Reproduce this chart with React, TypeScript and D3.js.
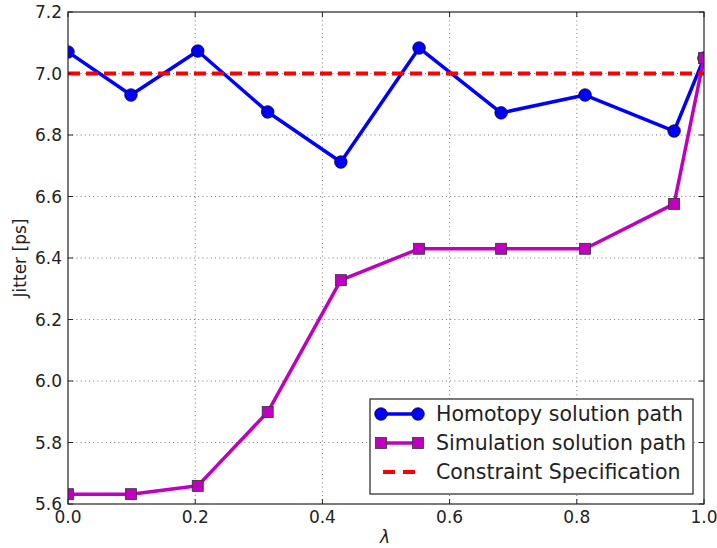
import React from "react";
import * as d3 from "d3";

const lambdaValues = [0, 0.099, 0.204, 0.314, 0.429, 0.552, 0.681, 0.813, 0.953, 1.0];
const homotopyJitter = [7.07, 6.93, 7.073, 6.875, 6.712, 7.083, 6.872, 6.93, 6.813, 7.05];
const simulationJitter = [5.632, 5.632, 5.659, 5.899, 6.328, 6.43, 6.43, 6.43, 6.576, 7.05];
const constraintSpec = 7.0;
const xTicks = [0, 0.2, 0.4, 0.6, 0.8, 1.0];
const yTicks = [5.6, 5.8, 6.0, 6.2, 6.4, 6.6, 6.8, 7.0, 7.2];
const legendLabels = ["Homotopy solution path", "Simulation solution path", "Constraint Specification"];

const W = 717;
const H = 548;
const M = { left: 68, top: 12, right: 704, bottom: 504 };
const FONT = "DejaVu Sans, sans-serif";
const BLUE = "#0000ff";
const MAGENTA = "#bf00bf";
const RED = "#ff0000";

export default function App() {
  const x = d3.scaleLinear().domain([0, 1]).range([M.left, M.right]);
  const y = d3.scaleLinear().domain([5.6, 7.2]).range([M.bottom, M.top]);
  const line = d3
    .line<number>()
    .x((_, i) => x(lambdaValues[i]))
    .y((d) => y(d));

  const tickLen = 5;
  const sq = 11;

  return (
    <svg
      width={W}
      height={H}
      style={{ position: "absolute", left: 0, top: 0, background: "#fff" }}
      fontFamily={FONT}
    >
      <defs>
        <clipPath id="plot-clip">
          <rect x={M.left} y={M.top} width={M.right - M.left} height={M.bottom - M.top} />
        </clipPath>
      </defs>

      {/* grid */}
      <g stroke="#555" strokeWidth={0.8} strokeDasharray="1,3.2">
        {xTicks.slice(1, -1).map((t) => (
          <line key={"gx" + t} x1={x(t)} x2={x(t)} y1={M.top} y2={M.bottom} />
        ))}
        {yTicks.slice(1, -1).map((t) => (
          <line key={"gy" + t} x1={M.left} x2={M.right} y1={y(t)} y2={y(t)} />
        ))}
      </g>

      <g clipPath="url(#plot-clip)">
        {/* homotopy path */}
        <path d={line(homotopyJitter) ?? ""} fill="none" stroke={BLUE} strokeWidth={3.5} strokeLinejoin="round" />
        {homotopyJitter.map((v, i) => (
          <circle key={"h" + i} cx={x(lambdaValues[i])} cy={y(v)} r={6.3} fill={BLUE} stroke="#000" strokeWidth={0.7} />
        ))}
        {/* simulation path */}
        <path d={line(simulationJitter) ?? ""} fill="none" stroke={MAGENTA} strokeWidth={3.5} strokeLinejoin="round" />
        {simulationJitter.map((v, i) => (
          <rect
            key={"s" + i}
            x={x(lambdaValues[i]) - sq / 2}
            y={y(v) - sq / 2}
            width={sq}
            height={sq}
            fill={MAGENTA}
            stroke="#333"
            strokeWidth={0.8}
          />
        ))}
        {/* constraint */}
        <line
          x1={M.left}
          x2={M.right}
          y1={y(constraintSpec)}
          y2={y(constraintSpec)}
          stroke={RED}
          strokeWidth={4}
          strokeDasharray="12,6"
        />
      </g>

      {/* axes frame */}
      <rect
        x={M.left}
        y={M.top}
        width={M.right - M.left}
        height={M.bottom - M.top}
        fill="none"
        stroke="#222"
        strokeWidth={1.2}
      />

      {/* ticks */}
      <g stroke="#222" strokeWidth={1}>
        {xTicks.map((t) => (
          <g key={"tx" + t}>
            <line x1={x(t)} x2={x(t)} y1={M.bottom} y2={M.bottom - tickLen} />
            <line x1={x(t)} x2={x(t)} y1={M.top} y2={M.top + tickLen} />
          </g>
        ))}
        {yTicks.map((t) => (
          <g key={"ty" + t}>
            <line x1={M.left} x2={M.left + tickLen} y1={y(t)} y2={y(t)} />
            <line x1={M.right} x2={M.right - tickLen} y1={y(t)} y2={y(t)} />
          </g>
        ))}
      </g>

      {/* tick labels */}
      <g fontSize={17} fill="#222">
        {xTicks.map((t) => (
          <text key={"lx" + t} x={x(t)} y={523} textAnchor="middle">
            {t.toFixed(1)}
          </text>
        ))}
        {yTicks.map((t) => (
          <text key={"ly" + t} x={62} y={y(t) + 6} textAnchor="end">
            {t.toFixed(1)}
          </text>
        ))}
      </g>

      {/* axis titles */}
      <text x={385} y={543} fontSize={17} fontStyle="italic" textAnchor="middle" fill="#222">
        λ
      </text>
      <text
        transform="translate(26,258) rotate(-90)"
        fontSize={17}
        textAnchor="middle"
        fill="#222"
      >
        Jitter [ps]
      </text>

      {/* legend */}
      <g>
        <rect x={370} y={399} width={323} height={95} fill="#fff" stroke="#222" strokeWidth={1.2} />
        {legendLabels.map((label, i) => {
          const cy = 414 + i * 29;
          return (
            <g key={label}>
              {i === 0 && (
                <g>
                  <line x1={381} x2={418} y1={cy} y2={cy} stroke={BLUE} strokeWidth={3.5} />
                  <circle cx={381} cy={cy} r={6.3} fill={BLUE} stroke="#000" strokeWidth={0.7} />
                  <circle cx={418} cy={cy} r={6.3} fill={BLUE} stroke="#000" strokeWidth={0.7} />
                </g>
              )}
              {i === 1 && (
                <g>
                  <line x1={381} x2={418} y1={cy} y2={cy} stroke={MAGENTA} strokeWidth={3.5} />
                  <rect x={381 - sq / 2} y={cy - sq / 2} width={sq} height={sq} fill={MAGENTA} stroke="#333" strokeWidth={0.8} />
                  <rect x={418 - sq / 2} y={cy - sq / 2} width={sq} height={sq} fill={MAGENTA} stroke="#333" strokeWidth={0.8} />
                </g>
              )}
              {i === 2 && (
                <line x1={383} x2={418} y1={cy} y2={cy} stroke={RED} strokeWidth={4} strokeDasharray="12,8" />
              )}
              <text x={436} y={cy + 7} fontSize={20.5} fill="#222">
                {label}
              </text>
            </g>
          );
        })}
      </g>
    </svg>
  );
}
